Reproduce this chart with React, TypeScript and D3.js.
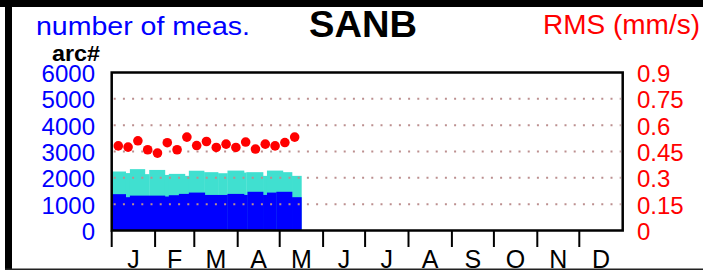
import React from "react";
import * as d3 from "d3";

// ---- data ----
const months = ["J", "F", "M", "A", "M", "J", "J", "A", "S", "O", "N", "D"];
const monthStartDays = [0, 31, 59, 90, 120, 151, 181, 212, 243, 273, 304, 334, 365];

const leftTicks = [0, 1000, 2000, 3000, 4000, 5000, 6000];
const rightTicks = [0, 0.15, 0.3, 0.45, 0.6, 0.75, 0.9];
const gridValues = [1000, 2000, 3000, 4000, 5000];

// total number of measurements (turquoise), step start day-of-year
const totalStart = [0, 10, 13, 23.7, 26.8, 38, 40.8, 52.3, 55.1, 66, 76, 82.7, 94.5, 96.2, 108.1, 110.9, 122.3, 128.8];
const totalCount = [2240, 2180, 2330, 2140, 2300, 2110, 2150, 2075, 2270, 2215, 2175, 2275, 2200, 2215, 2075, 2275, 2215, 2075];
// number of arcs (blue)
const arcStart = [0, 10, 13, 38, 40.8, 48, 55.1, 66.5, 82.7, 94.5, 97, 108.1, 110.9, 117.6, 128.8];
const arcCount = [1380, 1265, 1325, 1290, 1340, 1390, 1440, 1350, 1390, 1350, 1470, 1350, 1440, 1470, 1265];
const barsEndDay = 135.5;

// weekly RMS (mm/s)
const rmsDay = [4.7, 11.7, 18.7, 25.7, 32.7, 39.7, 46.7, 53.7, 60.7, 67.7, 74.7, 81.7, 88.7, 95.7, 102.7, 109.7, 116.7, 123.7, 130.7];
const rmsValue = [0.482, 0.475, 0.511, 0.46, 0.441, 0.5, 0.46, 0.532, 0.484, 0.507, 0.473, 0.492, 0.473, 0.504, 0.464, 0.492, 0.482, 0.501, 0.532];

const FONT = "'Liberation Sans', Arial, Helvetica, sans-serif";

export default function App() {
  const W = 703, H = 271;
  const x = d3.scaleLinear().domain([0, 365]).range([111.7, 622.7]);
  const yL = d3.scaleLinear().domain([0, 6000]).range([230.5, 72.5]);
  const yR = d3.scaleLinear().domain([0, 0.9]).range([230.5, 72.5]);

  const steps = (starts: number[], vals: number[]) =>
    starts.map((s, i) => ({
      x0: x(s),
      x1: x(i < starts.length - 1 ? starts[i + 1] : barsEndDay),
      v: vals[i],
    }));

  const total = steps(totalStart, totalCount);
  const arcs = steps(arcStart, arcCount);
  const fmtR = (v: number) => (v === 0 ? "0" : String(+v.toFixed(2)));

  return (
    <svg
      width={W}
      height={H}
      style={{ position: "absolute", left: 0, top: 0, display: "block", background: "#fff" }}
      fontFamily={FONT}
    >
      {/* outer frame */}
      <rect x={0} y={0} width={W} height={7} fill="#000" />
      <rect x={5} y={0} width={7} height={270} fill="#000" />
      <line x1={5} x2={W} y1={269.3} y2={269.3} stroke="#222" strokeWidth={1.5} />

      {/* titles */}
      <text x={36} y={35} fontSize={25} fill="#0000ff" textLength={214} lengthAdjust="spacingAndGlyphs">
        number of meas.
      </text>
      <text x={309} y={36.5} fontSize={37} fontWeight="bold" fill="#000" textLength={108} lengthAdjust="spacingAndGlyphs">
        SANB
      </text>
      <text x={543} y={33.5} fontSize={27} fill="#ff0000" textLength={157} lengthAdjust="spacingAndGlyphs">
        RMS (mm/s)
      </text>
      <text x={52} y={61} fontSize={22} fontWeight="bold" fill="#000" textLength={48} lengthAdjust="spacingAndGlyphs">
        arc#
      </text>

      {/* bars */}
      {total.map((d, i) => (
        <rect key={"t" + i} x={d.x0} y={yL(d.v)} width={d.x1 - d.x0 + 0.3} height={yL(0) - yL(d.v)} fill="#40e0d0" />
      ))}
      {arcs.map((d, i) => (
        <rect key={"a" + i} x={d.x0} y={yL(d.v)} width={d.x1 - d.x0 + 0.3} height={yL(0) - yL(d.v)} fill="#0000ff" />
      ))}

      {/* grid */}
      {gridValues.map((v) => (
        <line
          key={"g" + v}
          x1={x(0) + 2}
          x2={x(365) - 2}
          y1={yL(v)}
          y2={yL(v)}
          stroke="#bc8f8f"
          strokeWidth={2}
          strokeDasharray="2,7.2"
        />
      ))}

      {/* rms dots */}
      {rmsDay.map((d, i) => (
        <circle key={"r" + i} cx={x(d)} cy={yR(rmsValue[i])} r={4.8} fill="#ff0000" />
      ))}

      {/* plot frame */}
      <rect
        x={x(0)}
        y={yL(6000)}
        width={x(365) - x(0)}
        height={yL(0) - yL(6000)}
        fill="none"
        stroke="#000"
        strokeWidth={2.5}
      />

      {/* month ticks */}
      {monthStartDays.slice(0, 12).map((d, i) => (
        <line key={"mt" + i} x1={x(d)} x2={x(d)} y1={yL(0)} y2={247} stroke="#000" strokeWidth={2} />
      ))}
      {months.map((m, i) => (
        <text
          key={"ml" + i}
          x={x((monthStartDays[i] + monthStartDays[i + 1]) / 2)}
          y={268}
          fontSize={25}
          textAnchor="middle"
          fill="#000"
        >
          {m}
        </text>
      ))}

      {/* left axis labels */}
      {leftTicks.map((v) => (
        <text key={"l" + v} x={95} y={yL(v) + 9.5} fontSize={24} textAnchor="end" fill="#0000ff">
          {v}
        </text>
      ))}
      {/* right axis labels */}
      {rightTicks.map((v) => (
        <text key={"r" + v} x={637} y={yR(v) + 9.5} fontSize={24} textAnchor="start" fill="#ff0000">
          {fmtR(v)}
        </text>
      ))}
    </svg>
  );
}
